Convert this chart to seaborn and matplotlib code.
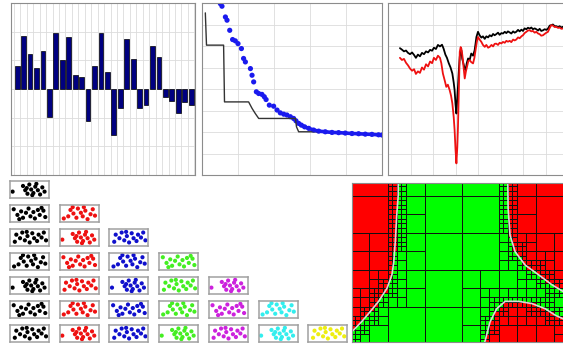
import matplotlib
matplotlib.use("Agg")
import matplotlib.pyplot as plt
from matplotlib.patches import Rectangle
import numpy as np
import pandas as pd
import seaborn as sns

# ---- data ----
bar_vals = [0.81, 1.85, 1.22, 0.73, 1.34, -0.98, 1.94, 1.0, 1.82, 0.49, 0.41, -1.12, 0.81, 1.96,
            0.59, -1.59, -0.68, 1.73, 1.06, -0.68, -0.56, 1.49, 1.11, -0.29, -0.41, -0.82, -0.45, -0.56]

step_x = [1.85, 2.5, 12.0, 12.5, 25.9, 27.8, 29.6, 31.5, 51.9, 52.5, 53.7, 63.0, 70.0, 80.0, 100.0]
step_y = [7.54, 6.04, 6.04, 3.40, 3.40, 3.10, 2.86, 2.63, 2.63, 2.24, 2.01, 2.01, 1.98, 1.95, 1.86]

blue_x = [10.2, 11.1, 13.0, 13.9, 15.4, 17.0, 18.5, 20.0, 21.9, 23.1, 24.1, 26.9, 27.8, 28.7, 30.2,
          31.5, 33.3, 34.6, 35.6, 37.4, 39.8, 41.7, 43.5, 45.4, 47.2, 49.1, 50.9, 52.2, 53.7, 55.2,
          57.0, 59.3, 62.0, 64.8, 68.5, 72.2, 75.9, 79.6, 83.3, 87.0, 90.7, 94.4, 98.1, 100.0]
blue_y = [7.97, 7.85, 7.35, 7.20, 6.73, 6.30, 6.24, 6.11, 5.88, 5.42, 5.26, 4.95, 4.64, 4.33, 3.87,
          3.79, 3.75, 3.64, 3.51, 3.25, 3.20, 3.02, 2.89, 2.83, 2.79, 2.71, 2.63, 2.52, 2.40, 2.32,
          2.24, 2.17, 2.09, 2.04, 2.01, 1.98, 1.97, 1.95, 1.93, 1.92, 1.90, 1.89, 1.87, 1.86]

t_black = [0.53, 0.62, 0.71, 0.80, 0.89, 0.98, 1.07, 1.16, 1.24, 1.33, 1.42, 1.51, 1.60, 1.69, 1.78,
           1.87, 1.96, 2.04, 2.13, 2.22, 2.31, 2.40, 2.47, 2.55, 2.62, 2.70, 2.78, 2.86, 2.92, 2.96,
           3.00, 3.04, 3.08, 3.11, 3.15, 3.19, 3.23, 3.26, 3.30, 3.37, 3.41, 3.45, 3.50, 3.56, 3.63,
           3.70, 3.78, 3.85, 3.89, 3.93, 4.00, 4.07, 4.15, 4.22, 4.30, 4.37, 4.45, 4.52, 4.60, 4.67,
           4.74, 4.81, 4.89, 4.96, 5.04, 5.11, 5.19, 5.26, 5.33, 5.41, 5.48, 5.56, 5.63, 5.70, 5.78,
           5.85, 5.93, 6.00, 6.07, 6.15, 6.22, 6.30, 6.37, 6.44, 6.52, 6.59, 6.67, 6.74, 6.81, 6.89,
           6.96, 7.04, 7.11, 7.19, 7.26, 7.33, 7.41, 7.48, 7.56, 7.63, 7.70, 7.76]
v_black = [5.90, 5.83, 5.75, 5.79, 5.68, 5.62, 5.70, 5.58, 5.45, 5.60, 5.52, 5.68, 5.62, 5.75, 5.70,
           5.82, 5.78, 5.92, 5.86, 6.05, 5.98, 6.06, 5.88, 5.60, 5.45, 5.20, 5.00, 4.72, 4.30, 3.95,
           3.30, 2.86, 3.60, 4.10, 4.90, 5.50, 5.75, 5.80, 5.40, 5.11, 4.95, 4.88, 5.20, 5.42, 5.35,
           5.65, 5.55, 5.80, 6.10, 6.42, 6.66, 6.50, 6.39, 6.45, 6.33, 6.45, 6.40, 6.50, 6.45, 6.56,
           6.50, 6.55, 6.62, 6.52, 6.60, 6.58, 6.66, 6.60, 6.68, 6.63, 6.58, 6.68, 6.62, 6.66, 6.75,
           6.68, 6.76, 6.70, 6.82, 6.78, 6.85, 6.81, 6.86, 6.78, 6.82, 6.78, 6.72, 6.80, 6.70, 6.73,
           6.78, 6.75, 6.81, 6.95, 6.97, 7.00, 6.92, 6.92, 6.88, 6.92, 6.86, 6.89]
t_red = [0.53, 0.62, 0.71, 0.80, 0.89, 0.98, 1.07, 1.16, 1.24, 1.33, 1.42, 1.51, 1.60, 1.69, 1.78,
         1.87, 1.96, 2.04, 2.13, 2.22, 2.31, 2.37, 2.44, 2.52, 2.59, 2.66, 2.74, 2.80, 2.86, 2.92,
         2.96, 3.00, 3.04, 3.08, 3.11, 3.15, 3.19, 3.23, 3.26, 3.30, 3.33, 3.37, 3.41, 3.46, 3.51,
         3.57, 3.63, 3.70, 3.78, 3.84, 3.89, 3.95, 4.00, 4.07, 4.15, 4.22, 4.30, 4.37, 4.45, 4.52,
         4.60, 4.67, 4.74, 4.81, 4.89, 4.96, 5.04, 5.11, 5.19, 5.26, 5.33, 5.41, 5.48, 5.56, 5.63,
         5.70, 5.78, 5.85, 5.93, 6.00, 6.07, 6.15, 6.22, 6.30, 6.37, 6.44, 6.52, 6.59, 6.67, 6.74,
         6.81, 6.89, 6.96, 7.04, 7.11, 7.19, 7.26, 7.33, 7.41, 7.48, 7.56, 7.63, 7.70, 7.76]
v_red = [5.45, 5.35, 5.40, 5.22, 5.10, 4.95, 4.85, 4.92, 4.70, 4.82, 4.75, 5.00, 4.90, 5.15, 5.05,
         5.28, 5.20, 5.45, 5.35, 5.55, 5.45, 5.20, 4.72, 4.40, 4.10, 4.20, 3.95, 3.70, 3.33, 2.70,
         2.09, 1.20, 0.54, 1.30, 2.24, 4.00, 5.73, 5.95, 5.88, 5.60, 5.34, 4.90, 4.49, 4.80, 5.03,
         5.30, 5.34, 5.25, 5.19, 5.45, 5.80, 6.20, 6.42, 6.30, 6.19, 6.05, 5.96, 6.05, 5.92, 5.96,
         6.05, 5.98, 6.10, 6.11, 6.05, 6.15, 6.12, 6.19, 6.15, 6.24, 6.20, 6.24, 6.18, 6.30, 6.26,
         6.30, 6.40, 6.36, 6.45, 6.50, 6.60, 6.66, 6.72, 6.73, 6.68, 6.70, 6.62, 6.66, 6.58, 6.55,
         6.48, 6.50, 6.56, 6.62, 6.66, 6.85, 6.97, 6.95, 6.88, 6.89, 6.84, 6.86, 6.80, 6.81]

# dot patterns inside the small boxes (unit box coords)
pat_x = [[0.02, 0.30, 0.36, 0.42, 0.47, 0.52, 0.58, 0.63, 0.70, 0.76, 0.82, 0.88, 0.40, 0.66, 0.55],
         [0.05, 0.15, 0.25, 0.30, 0.38, 0.45, 0.50, 0.58, 0.62, 0.70, 0.75, 0.85, 0.90, 0.20, 0.80],
         [0.08, 0.12, 0.22, 0.28, 0.35, 0.42, 0.48, 0.55, 0.60, 0.68, 0.72, 0.80, 0.86, 0.92, 0.40],
         [0.06, 0.18, 0.24, 0.32, 0.40, 0.44, 0.52, 0.57, 0.64, 0.70, 0.78, 0.84, 0.90, 0.30, 0.60]]
pat_y = [[0.35, 0.75, 0.45, 0.20, 0.85, 0.50, 0.25, 0.70, 0.45, 0.15, 0.65, 0.35, 0.60, 0.90, 0.10],
         [0.80, 0.40, 0.65, 0.20, 0.55, 0.85, 0.30, 0.60, 0.15, 0.75, 0.40, 0.70, 0.25, 0.10, 0.90],
         [0.20, 0.70, 0.45, 0.85, 0.30, 0.60, 0.15, 0.80, 0.45, 0.25, 0.70, 0.50, 0.85, 0.30, 0.90],
         [0.15, 0.30, 0.75, 0.50, 0.20, 0.85, 0.55, 0.30, 0.70, 0.10, 0.45, 0.80, 0.35, 0.95, 0.95]]
box_colors = ['#000000', '#ee1111', '#1010cc', '#44ee22', '#cc22dd', '#33eeee', '#eeee11']

# quadtree boundary curves
left_x = [1.25, 1.25, 1.21, 1.17, 1.13, 1.08, 0.95, 0.72, 0.50, 0.27, 0.05, -0.10]
left_y = [4.40, 3.98, 3.44, 2.72, 2.18, 1.82, 1.46, 1.10, 0.83, 0.56, 0.33, 0.20]
right_x = [4.21, 4.22, 4.27, 4.41, 4.68, 5.04, 5.40, 5.70, 6.10]
right_y = [4.40, 3.61, 2.89, 2.44, 2.08, 1.82, 1.55, 1.37, 1.10]
bump_x = [3.59, 3.73, 3.91, 4.14, 4.50, 4.86, 5.22, 5.50, 5.70, 6.10]
bump_y = [0.00, 0.54, 0.90, 1.10, 1.10, 1.04, 0.90, 0.72, 0.63, 0.54]

W, H = 563, 348
sns.set_style("whitegrid")
fig = plt.figure(figsize=(W / 100, H / 100), dpi=100)


def px_axes(l, t, w, h):
    return fig.add_axes([l / W, 1 - (t + h) / H, w / W, h / H])


def frame(ax):
    ax.set_xticklabels([])
    ax.set_yticklabels([])
    ax.set_xlabel("")
    ax.set_ylabel("")
    ax.tick_params(direction="in", length=2, color="#999999", pad=0)
    ax.grid(True, color="#dcdcdc", lw=0.6)
    for s in ax.spines.values():
        s.set_color("#8c8c8c")
        s.set_linewidth(0.8)


# panel 1 : bars
ax1 = px_axes(11, 3, 184, 172)
df_bar = pd.DataFrame({"k": list(range(len(bar_vals))), "v": bar_vals})
sns.barplot(data=df_bar, x="k", y="v", color="#000080", edgecolor="black", linewidth=0.5,
            saturation=1, width=0.74, ax=ax1)
ax1.set_xlim(-0.95, len(bar_vals) - 0.4)
ax1.set_ylim(-3, 3)
ax1.set_xticks(np.arange(len(bar_vals) + 1) - 0.5)
ax1.set_yticks(range(-3, 4))
frame(ax1)
ax1.set_axisbelow(True)

# panel 2 : step line + blue dots
ax2 = px_axes(202, 3, 180, 172)
sns.lineplot(x=step_x, y=step_y, sort=False, estimator=None, color="#333333", lw=1.0, ax=ax2)
sns.lineplot(x=blue_x[28:], y=blue_y[28:], sort=False, estimator=None, color="#1a1aee", lw=2.6, ax=ax2)
sns.scatterplot(x=blue_x, y=blue_y, color="#1a1aee", s=14, edgecolor="none", ax=ax2)
ax2.set_xlim(0, 100)
ax2.set_ylim(0, 8)
ax2.set_xticks(range(0, 101, 20))
ax2.set_yticks(range(0, 9))
frame(ax2)

# panel 3 : two jagged series
ax3 = px_axes(388, 3, 180, 172)
sns.lineplot(x=t_black, y=v_black, sort=False, estimator=None, color="black", lw=1.3, ax=ax3)
sns.lineplot(x=t_red, y=v_red, sort=False, estimator=None, color="#ee1111", lw=1.3, ax=ax3)
ax3.set_xlim(0, 8)
ax3.set_ylim(0, 8)
ax3.set_xticks(range(0, 9))
ax3.set_yticks(range(0, 9))
frame(ax3)

# bottom left : triangle of small boxes
for r in range(7):
    for c in range(r + 1):
        bx = px_axes(10 + 49.7 * c, 181 + 24 * r, 39, 17)
        p = (r + 2 * c) % 4
        sns.scatterplot(x=pat_x[p], y=pat_y[p], color=box_colors[c], s=9, edgecolor="none", ax=bx)
        bx.set_xlim(-0.05, 1.0)
        bx.set_ylim(-0.1, 1.1)
        bx.set_xticks([])
        bx.set_yticks([])
        bx.grid(False)
        bx.set_xlabel("")
        bx.set_ylabel("")
        for s in bx.spines.values():
            s.set_color("#a0a0a0")
            s.set_linewidth(1.1)

# bottom right : quadtree
ax5 = px_axes(352, 183, 222, 159)


def inside(x, y):
    lx = np.interp(y, left_y[::-1], left_x[::-1])
    rx = np.interp(y, right_y[::-1], right_x[::-1])
    by = np.interp(x, bump_x, bump_y, left=-1.0)
    return (x > lx) & (x < rx) & (y > by)


def split(x0, y0, s, d):
    m = s * 0.2
    g = np.linspace(-m, s + m, 9)
    gx, gy = np.meshgrid(x0 + g, y0 + g)
    c = inside(gx, gy)
    if c.all() or (~c).all() or d == 3:
        col = "#00ff00" if inside(x0 + s / 2, y0 + s / 2) else "#ff0000"
        ax5.add_patch(Rectangle((x0, y0), s, s, facecolor=col, edgecolor="#111111", lw=0.7))
        return
    h = s / 2
    for dx in (0, h):
        for dy in (0, h):
            split(x0 + dx, y0 + dy, h, d + 1)


for i in range(7):
    for j in range(5):
        split(-0.04 + i, -0.04 + j, 1.0, 0)

sns.lineplot(x=left_x, y=left_y, sort=False, estimator=None, color="#d8d8d8", lw=1.2, ax=ax5)
sns.lineplot(x=right_x, y=right_y, sort=False, estimator=None, color="#d8d8d8", lw=1.2, ax=ax5)
sns.lineplot(x=bump_x, y=bump_y, sort=False, estimator=None, color="#d8d8d8", lw=1.2, ax=ax5)
ax5.set_xlim(0, 6.0)
ax5.set_ylim(0, 4.3)
ax5.set_xticks([])
ax5.set_yticks([])
ax5.grid(False)
for s in ax5.spines.values():
    s.set_color("#8c8c8c")
    s.set_linewidth(0.8)

fig.savefig("out.png", dpi=100)
